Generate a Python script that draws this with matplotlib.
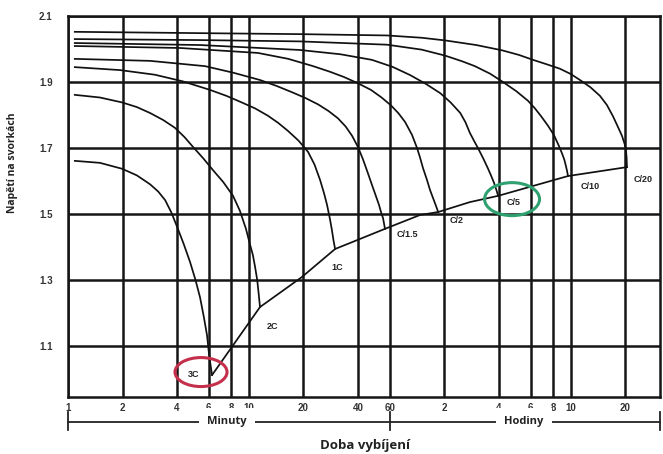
import numpy as np
import matplotlib.pyplot as plt
import matplotlib.transforms as mtransforms
from matplotlib.patches import Ellipse

# discharge curves: time in minutes, voltage per cell
t_3c = [1.09, 1.5, 1.99, 2.4, 2.84, 3.15, 3.44, 3.72, 4.0, 4.35, 4.72, 5.05, 5.36, 5.62, 5.86, 6.0, 6.12, 6.25]
v_3c = [1.661, 1.655, 1.637, 1.617, 1.590, 1.568, 1.542, 1.505, 1.462, 1.410, 1.355, 1.302, 1.248, 1.19, 1.133, 1.08, 1.045, 1.012]

t_2c = [1.09, 1.5, 1.99, 2.4, 2.84, 3.35, 3.9, 4.4, 4.91, 5.6, 6.32, 7.2, 8.16, 8.9, 9.62, 10.1, 10.5, 10.8, 11.1, 11.3, 11.5]
v_2c = [1.861, 1.853, 1.838, 1.824, 1.806, 1.785, 1.761, 1.733, 1.703, 1.668, 1.633, 1.597, 1.555, 1.51, 1.455, 1.41, 1.376, 1.34, 1.30, 1.26, 1.218]

t_1c = [1.09, 1.94, 3.02, 4.3, 6.09, 7.5, 9.03, 10.8, 12.7, 14.5, 16.4, 18.8, 21.2, 23.0, 24.7, 26.0, 27.0, 28.0, 28.7, 29.3, 29.9]
v_1c = [1.945, 1.936, 1.922, 1.902, 1.876, 1.858, 1.839, 1.82, 1.798, 1.776, 1.752, 1.722, 1.688, 1.650, 1.603, 1.562, 1.527, 1.485, 1.452, 1.42, 1.394]

t_c15 = [1.09, 2.84, 5.71, 8.2, 11.5, 14.2, 17.1, 20.4, 24.1, 27.5, 31.0, 34.2, 37.1, 40.0, 42.6, 45.3, 47.8, 50.2, 52.3, 54.0, 55.0, 56.4]
v_c15 = [1.970, 1.964, 1.948, 1.928, 1.906, 1.888, 1.870, 1.852, 1.832, 1.812, 1.790, 1.765, 1.737, 1.703, 1.666, 1.625, 1.588, 1.555, 1.527, 1.50, 1.488, 1.455]

t_c2 = [1.09, 4.16, 11.2, 16.5, 22.6, 28, 33.5, 40, 47.2, 54, 60.9, 67, 72.8, 79.5, 84.8, 88, 91.5, 96, 100, 104, 107, 111]
v_c2 = [2.009, 2.003, 1.988, 1.970, 1.948, 1.931, 1.915, 1.896, 1.876, 1.853, 1.829, 1.805, 1.779, 1.740, 1.700, 1.672, 1.639, 1.605, 1.573, 1.548, 1.530, 1.506]

t_c5 = [1.09, 5.36, 19.1, 32, 47.8, 62, 77.6, 95, 114, 130, 147, 157, 166, 175, 184, 197, 209, 218, 226, 232, 238]
v_c5 = [2.018, 2.012, 1.997, 1.984, 1.967, 1.946, 1.921, 1.894, 1.866, 1.838, 1.806, 1.778, 1.746, 1.722, 1.700, 1.668, 1.638, 1.615, 1.594, 1.575, 1.555]

t_c10 = [1.09, 5.36, 19.1, 57.9, 90, 121, 150, 177, 215, 253, 300, 348, 380, 410, 448, 484, 512, 536, 552, 564, 572, 579]
v_c10 = [2.030, 2.027, 2.023, 2.013, 1.998, 1.980, 1.963, 1.948, 1.925, 1.900, 1.872, 1.843, 1.820, 1.797, 1.768, 1.739, 1.710, 1.684, 1.665, 1.645, 1.630, 1.615]

t_c20 = [1.09, 5.36, 19.1, 57.9, 90, 121, 180, 250, 310, 371, 445, 523, 600, 674, 770, 869, 950, 1026, 1090, 1150, 1190, 1210, 1220, 1225]
v_c20 = [2.052, 2.048, 2.045, 2.041, 2.034, 2.026, 2.012, 1.996, 1.982, 1.967, 1.953, 1.940, 1.924, 1.906, 1.884, 1.858, 1.830, 1.796, 1.765, 1.737, 1.712, 1.694, 1.670, 1.642]

# end-of-discharge line
t_end = [6.25, 11.5, 19.6, 29.9, 36.1, 56.4, 88.1, 111, 166, 238, 579, 1225]
v_end = [1.012, 1.218, 1.309, 1.394, 1.412, 1.455, 1.497, 1.506, 1.536, 1.555, 1.615, 1.642]

rate_labels = ['3C', '2C', '1C', 'C/1.5', 'C/2', 'C/5', 'C/10', 'C/20']
label_t = [4.97, 13.4, 30.6, 74.6, 141, 288, 765, 1503]
label_v = [1.015, 1.158, 1.339, 1.439, 1.479, 1.536, 1.582, 1.606]

xticks = [1, 2, 4, 6, 8, 10, 20, 40, 60, 120, 240, 360, 480, 600, 1200]
xlabels = ['1', '2', '4', '6', '8', '10', '20', '40', '60', '2', '4', '6', '8', '10', '20']
yticks = [1.1, 1.3, 1.5, 1.7, 1.9, 2.1]
ylabels = ['1.1', '1.3', '1.5', '1.7', '1.9', '2.1']

fig = plt.figure(figsize=(6.63, 4.54), dpi=100)
ax = fig.add_axes([0.1026, 0.1256, 0.8929, 0.8392])

curves = [(t_3c, v_3c), (t_2c, v_2c), (t_1c, v_1c), (t_c15, v_c15),
          (t_c2, v_c2), (t_c5, v_c5), (t_c10, v_c10), (t_c20, v_c20)]
for t, v in curves:
    ax.plot(t, v, color='#111111', lw=1.25, zorder=3)
ax.plot(t_end, v_end, color='#111111', lw=1.25, zorder=3)

ax.set_xscale('log')
ax.set_xlim(1, 1866)
ax.set_ylim(0.9455, 2.1)
ax.set_xticks(xticks)
ax.set_xticklabels(xlabels)
ax.minorticks_off()
ax.set_yticks(yticks)
ax.set_yticklabels(ylabels)
ax.grid(True, color='#151515', lw=1.8, zorder=1)
ax.set_axisbelow(True)
for s in ax.spines.values():
    s.set_linewidth(1.8)
    s.set_color('#151515')
ax.tick_params(axis='both', length=0, labelsize=7, labelcolor='#333333')
ax.tick_params(axis='y', pad=11)
ax.tick_params(axis='x', pad=4)
for lab in ax.get_xticklabels() + ax.get_yticklabels():
    lab.set_fontfamily('Liberation Sans')
    lab.set_fontweight('bold')

for name, t, v in zip(rate_labels, label_t, label_v):
    ax.text(t, v, name, ha='center', va='center', fontsize=6.5,
            fontfamily='Liberation Sans', fontweight='bold', color='#222222', zorder=4)

# highlight ellipses
for t, v, w, h, col in [(5.43, 1.021, 0.52, 0.29, '#c4304c'),
                        (284, 1.545, 0.55, 0.33, '#2fa171')]:
    tr = fig.dpi_scale_trans + mtransforms.ScaledTranslation(t, v, ax.transData)
    ax.add_patch(Ellipse((0, 0), w, h, transform=tr, fill=False, ec=col, lw=2.2, zorder=5))

# minutes / hours bracket under the axis
btr = mtransforms.blended_transform_factory(ax.transData, ax.transAxes)
ax.plot([1, 1866], [-0.0656, -0.0656], transform=btr, clip_on=False, color='#222222', lw=1.3)
for xb in [1, 60, 1866]:
    ax.plot([xb, xb], [-0.039, -0.087], transform=btr, clip_on=False, color='#222222', lw=1.3)
ax.text(7.56, -0.0656, 'Minuty', transform=btr, ha='center', va='center', fontsize=8,
        fontfamily='Open Sans', fontweight='bold', color='#222222',
        bbox=dict(fc='white', ec='none', pad=6))
ax.text(331, -0.0656, 'Hodiny', transform=btr, ha='center', va='center', fontsize=8,
        fontfamily='Open Sans', fontweight='bold', color='#222222',
        bbox=dict(fc='white', ec='none', pad=6))

fig.text(365 / 663, 1 - 446 / 454, 'Doba vybíjení', ha='center', va='center',
         fontsize=9.5, fontfamily='Open Sans', fontweight='bold', color='#222222')
fig.text(13 / 663, 1 - 163 / 454, 'Napětí na svorkách', rotation=90, ha='center', va='center',
         fontsize=7.5, fontfamily='Open Sans', fontweight='bold', color='#222222')

fig.savefig('out.png', dpi=100)
